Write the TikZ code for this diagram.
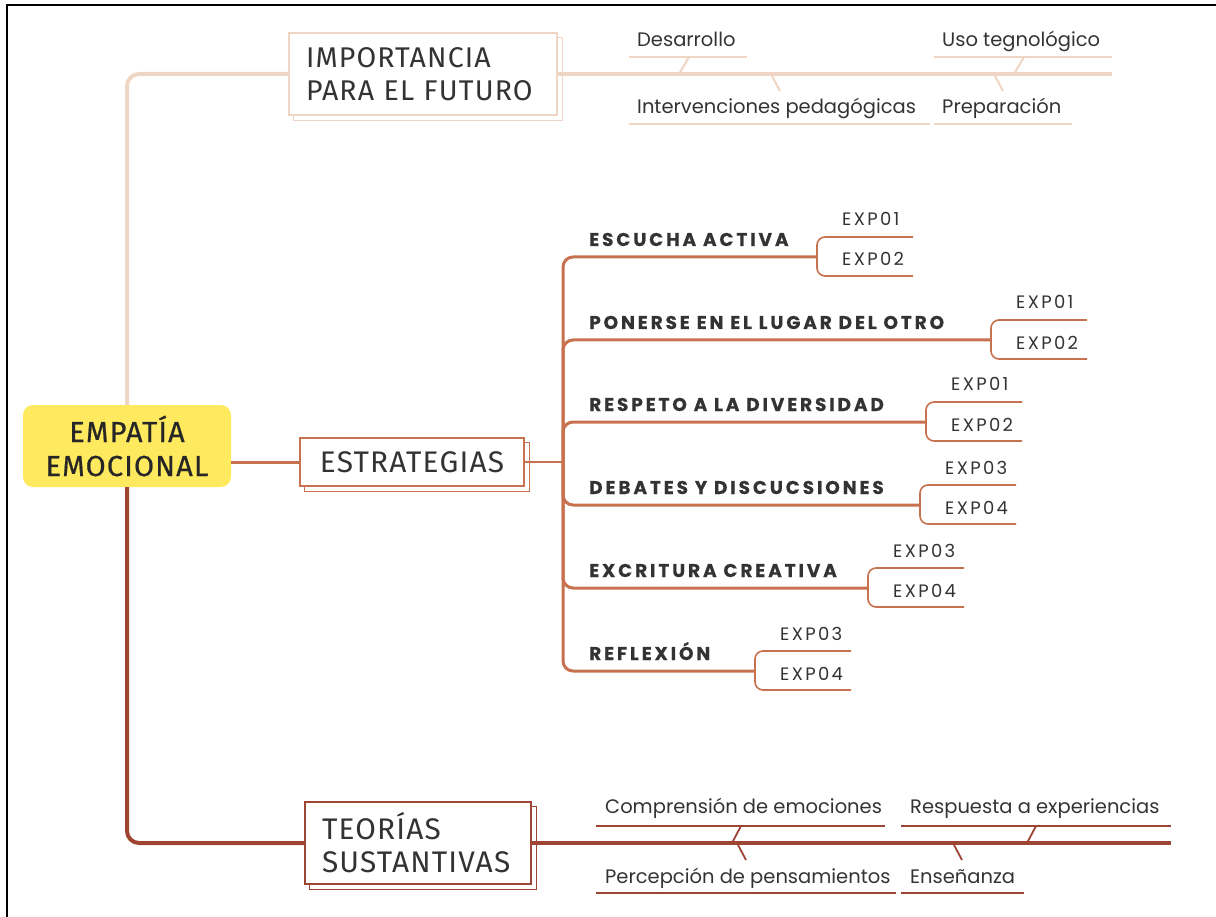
\documentclass[tikz,border=0pt]{standalone}
\usepackage{fontspec}
\setmainfont{Poppins}
\newfontfamily\hdfont{Fira Sans}[LetterSpace=4]
\newfontfamily\cnfont{Fira Sans}[LetterSpace=4, FakeBold=0.6]
\newfontfamily\bdfont{Poppins}[LetterSpace=15.5, BoldFeatures={FakeBold=0.4}]
\newfontfamily\exfont{Poppins}[LetterSpace=13]
\definecolor{yel}{HTML}{FFE95E}
\definecolor{beige}{HTML}{EFD5C3}
\definecolor{terra}{HTML}{C8714F}
\definecolor{brownx}{HTML}{9D4433}
\definecolor{txt}{HTML}{333333}
\newcommand\boxshadow[2]{%
  \draw[#2, line width=1.3] ([shift={(0,5)}]#1.north east) -- ([shift={(5,5)}]#1.north east)
    -- ([shift={(5,5)}]#1.south east) -- ([shift={(5,5)}]#1.south west) -- ([shift={(5,0)}]#1.south west);}
\begin{document}
\begin{tikzpicture}[x=1pt,y=-1pt,
  central/.style={fill=yel, rounded corners=10, minimum width=208, minimum height=82, align=center,
    text=black!85, font=\cnfont\fontsize{29}{34}\selectfont, inner sep=0},
  topic/.style={fill=white, line width=1.3, text=txt, font=\hdfont\fontsize{28.5}{33}\selectfont, inner ysep=0},
  bigtopic/.style={topic, font=\hdfont\fontsize{29.8}{33}\selectfont},
  branch/.style={text=txt, font=\bdfont\fontsize{18.5}{20}\selectfont\bfseries, inner sep=0},
  expt/.style={text=txt, font=\exfont\fontsize{18}{20}\selectfont, inner sep=0},
  smtxt/.style={text=txt, font=\fontsize{19.5}{22}\selectfont, inner sep=0},
  impmain/.style={beige, line width=4},
  impsub/.style={beige, line width=2},
  teomain/.style={brownx, line width=4},
  teosub/.style={brownx, line width=1.8},
  stspine/.style={terra, line width=3},
  stbranch/.style={terra, line width=2.2},
  stsub/.style={terra, line width=1.6}]
\useasboundingbox (0,0) rectangle (1216,917);
% frame
\draw[black, line width=2] (7,917) -- (7,5) -- (1216,5);

% central
\node[central] (c) at (127,446) {EMPATÍA\\EMOCIONAL};

% main topics
\node[topic, draw=beige, minimum height=82, text width=234, inner xsep=17, align=left] (imp) at (423,74)
  {IMPORTANCIA\\PARA EL FUTURO};
\boxshadow{imp}{beige}
\node[bigtopic, draw=terra, minimum height=48, minimum width=224, align=center] (est) at (412,462) {ESTRATEGIAS};
\boxshadow{est}{terra}
\node[bigtopic, draw=brownx, minimum height=82, text width=192, inner xsep=17, align=left] (teo) at (418,843)
  {TEORÍAS\\SUSTANTIVAS};
\boxshadow{teo}{brownx}

% trunks
\draw[impmain, rounded corners=12] (c.north) |- (imp.west);
\draw[teomain, rounded corners=12] (c.south) |- (teo.west);
\draw[terra, line width=3] (c.east |- est.west) -- (est.west);

% importancia fishbone
\coordinate (impend) at (1112,74);
\draw[impmain] (imp.east) -- (impend);
\foreach \n/\xa/\xb/\sx/\t in {d1/629/747/689/Desarrollo, d2/934/1112/1024/Uso tegnológico}{
  \node[smtxt, anchor=base west] (\n) at (\xa+8,47) {\t};
  \coordinate (\n-u1) at (\xa,57); \coordinate (\n-u2) at (\xb,57);
  \coordinate (\n-s1) at (\sx,57); \coordinate (\n-s2) at (\sx-10,74);
  \draw[impsub] (\n-u1) -- (\n-u2);
  \draw[impsub] (\n-s1) -- (\n-s2);
}
\foreach \n/\xa/\xb/\sx/\t in {d3/629/930/771/Intervenciones pedagógicas, d4/934/1072/994/Preparación}{
  \node[smtxt, anchor=base west] (\n) at (\xa+8,114) {\t};
  \coordinate (\n-u1) at (\xa,124); \coordinate (\n-u2) at (\xb,124);
  \coordinate (\n-s1) at (\sx,74); \coordinate (\n-s2) at (\sx+9,91);
  \draw[impsub] (\n-u1) -- (\n-u2);
  \draw[impsub] (\n-s1) -- (\n-s2);
}

% teorias fishbone
\coordinate (teoend) at (1171,843);
\draw[teomain] (teo.east) -- (teoend);
\foreach \n/\xa/\xb/\sx/\t in {t1/596/885/741/Comprensión de emociones, t2/901/1171/1036/Respuesta a experiencias}{
  \node[smtxt, anchor=base west] (\n) at (\xa+9,813) {\t};
  \coordinate (\n-u1) at (\xa,826); \coordinate (\n-u2) at (\xb,826);
  \coordinate (\n-s1) at (\sx,826); \coordinate (\n-s2) at (\sx-9,843);
  \draw[teosub] (\n-u1) -- (\n-u2);
  \draw[teosub] (\n-s1) -- (\n-s2);
}
\foreach \n/\xa/\xb/\sx/\t in {t3/596/896/737/Percepción de pensamientos, t4/901/1024/953/Enseñanza}{
  \node[smtxt, anchor=base west] (\n) at (\xa+9,883) {\t};
  \coordinate (\n-u1) at (\xa,893); \coordinate (\n-u2) at (\xb,893);
  \coordinate (\n-s1) at (\sx,843); \coordinate (\n-s2) at (\sx+9,860);
  \draw[teosub] (\n-u1) -- (\n-u2);
  \draw[teosub] (\n-s1) -- (\n-s2);
}

% estrategias
\coordinate (sp) at (563,462);
\draw[stbranch] (est.east) -- (sp);
\foreach \i/\y/\bx/\lab/\ea/\eb in {
  1/257/817/ESCUCHA ACTIVA/EXP01/EXP02,
  2/340/991/PONERSE EN EL LUGAR DEL OTRO/EXP01/EXP02,
  3/422/926/RESPETO A LA DIVERSIDAD/EXP01/EXP02,
  4/505/920/DEBATES Y DISCUCSIONES/EXP03/EXP04,
  5/588/868/EXCRITURA CREATIVA/EXP03/EXP04,
  6/671/755/REFLEXIÓN/EXP03/EXP04}{
  \node[branch, anchor=base west] (l\i) at (589,\y-11) {\lab};
  \coordinate (k\i) at (\bx,\y);
  \coordinate (ua\i) at (\bx+96,\y-20);
  \coordinate (ub\i) at (\bx+96,\y+19);
  \node[expt, anchor=base west] (ea\i) at (\bx+25,\y-31) {\ea};
  \node[expt, anchor=base west] (eb\i) at (\bx+25,\y+9) {\eb};
  \draw[stspine, rounded corners=10] (sp) |- (k\i);
  \draw[stsub, rounded corners=8] (ua\i) -| (k\i) |- (ub\i);
}
\end{tikzpicture}
\end{document}
